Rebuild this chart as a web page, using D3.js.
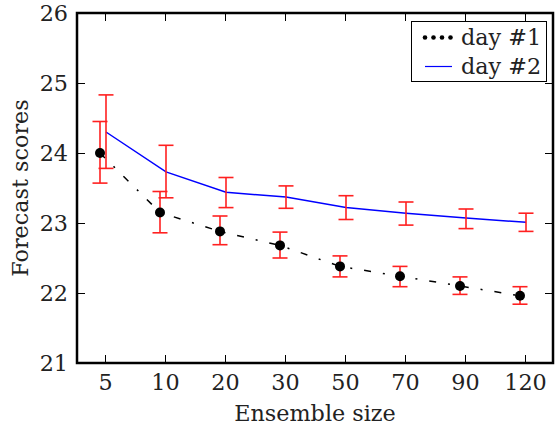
<!DOCTYPE html>
<html>
<head>
<meta charset="utf-8">
<script src="https://cdn.jsdelivr.net/npm/d3@7"></script>
<style>
  html, body { margin: 0; padding: 0; background: #fff; }
  svg { display: block; }
  text { font-family: "DejaVu Serif", serif; }
</style>
</head>
<body>
<svg id="chart" width="555" height="430"></svg>
<script>
const categories = ["5", "10", "20", "30", "50", "70", "90", "120"];
const day1 = [24.00, 23.15, 22.88, 22.68, 22.38, 22.24, 22.10, 21.96];
const day1Low = [23.57, 22.86, 22.69, 22.50, 22.23, 22.09, 21.98, 21.84];
const day1High = [24.45, 23.45, 23.10, 22.87, 22.53, 22.38, 22.23, 22.09];
const day2 = [24.30, 23.73, 23.44, 23.37, 23.22, 23.14, 23.07, 23.01];
const day2Low = [23.78, 23.36, 23.22, 23.21, 23.05, 22.97, 22.92, 22.88];
const day2High = [24.83, 24.11, 23.65, 23.53, 23.39, 23.30, 23.20, 23.14];
const yTicks = [21, 22, 23, 24, 25, 26];
const seriesNames = ["day #1", "day #2"];

const svg = d3.select("#chart");
const L = 77, R = 553, T = 13, B = 363;
const pad = 28 / 60;
const x = d3.scaleLinear().domain([-pad, categories.length - 1 + pad]).range([L, R]);
const y = d3.scaleLinear().domain([21, 26]).range([B, T]);
const off1 = -5 / 60, off2 = 1 / 60;
const idx = d3.range(categories.length);
const fs = 22.3;

// lines
const line1 = d3.line().x(i => x(i + off1)).y(i => y(day1[i]));
const line2 = d3.line().x(i => x(i + off2)).y(i => y(day2[i]));
svg.append("path").attr("d", line1(idx)).attr("fill", "none")
  .attr("stroke", "#000").attr("stroke-width", 1.5).attr("stroke-dasharray", "7,12,2,12");
svg.append("path").attr("d", line2(idx)).attr("fill", "none")
  .attr("stroke", "#0000ff").attr("stroke-width", 1.5);

// error bars
function errbars(off, lo, hi) {
  const g = svg.append("g").attr("stroke", "#ff2020").attr("stroke-width", 1.6).attr("fill", "none");
  idx.forEach(i => {
    const cx = x(i + off);
    g.append("line").attr("x1", cx).attr("x2", cx).attr("y1", y(lo[i])).attr("y2", y(hi[i]));
    g.append("line").attr("x1", cx - 7.5).attr("x2", cx + 7.5).attr("y1", y(lo[i])).attr("y2", y(lo[i]));
    g.append("line").attr("x1", cx - 7.5).attr("x2", cx + 7.5).attr("y1", y(hi[i])).attr("y2", y(hi[i]));
  });
}
errbars(off1, day1Low, day1High);
errbars(off2, day2Low, day2High);

// markers
svg.append("g").selectAll("circle").data(idx).join("circle")
  .attr("cx", i => x(i + off1)).attr("cy", i => y(day1[i])).attr("r", 5).attr("fill", "#000");

// axes
const tickLen = 8;
const xb = svg.append("g").attr("transform", `translate(0,${B})`)
  .call(d3.axisBottom(x).tickValues(idx).tickFormat(i => categories[i]).tickSizeInner(-tickLen).tickSizeOuter(0).tickPadding(11));
const xt = svg.append("g").attr("transform", `translate(0,${T})`)
  .call(d3.axisTop(x).tickValues(idx).tickFormat("").tickSizeInner(-tickLen).tickSizeOuter(0));
const yl = svg.append("g").attr("transform", `translate(${L},0)`)
  .call(d3.axisLeft(y).tickValues(yTicks).tickFormat(d3.format("d")).tickSizeInner(-tickLen).tickSizeOuter(0).tickPadding(9));
const yr = svg.append("g").attr("transform", `translate(${R},0)`)
  .call(d3.axisRight(y).tickValues(yTicks).tickFormat("").tickSizeInner(-tickLen).tickSizeOuter(0));
[xb, xt, yl, yr].forEach(g => {
  g.select(".domain").remove();
  g.selectAll("line").attr("stroke", "#000").attr("stroke-width", 1);
  g.selectAll("text").attr("font-family", "DejaVu Serif").attr("font-size", fs).attr("fill", "#222");
});

// frame
svg.append("rect").attr("x", L).attr("y", T).attr("width", R - L).attr("height", B - T)
  .attr("fill", "none").attr("stroke", "#000").attr("stroke-width", 2.5);

// axis labels
svg.append("text").attr("x", (L + R) / 2).attr("y", 421).attr("text-anchor", "middle")
  .attr("font-size", fs).attr("fill", "#222").text("Ensemble size");
svg.append("text").attr("transform", `translate(28,${(T + B) / 2}) rotate(-90)`).attr("text-anchor", "middle")
  .attr("font-size", fs).attr("fill", "#222").text("Forecast scores");

// legend
const lg = svg.append("g");
lg.append("rect").attr("x", 411.5).attr("y", 21.5).attr("width", 135).attr("height", 60)
  .attr("fill", "#fff").attr("stroke", "#000").attr("stroke-width", 1);
[0, 1, 2, 3].forEach(k => {
  lg.append("circle").attr("cx", 425 + k * 8.5).attr("cy", 37.5).attr("r", 2.3).attr("fill", "#000");
});
lg.append("line").attr("x1", 425).attr("x2", 452).attr("y1", 66.5).attr("y2", 66.5)
  .attr("stroke", "#0000ff").attr("stroke-width", 1.2);
lg.selectAll("text").data(seriesNames).join("text")
  .attr("x", 461).attr("y", (d, i) => 37.5 + i * 29).attr("dy", "0.35em")
  .attr("font-size", fs).attr("fill", "#222").text(d => d);
</script>
</body>
</html>
